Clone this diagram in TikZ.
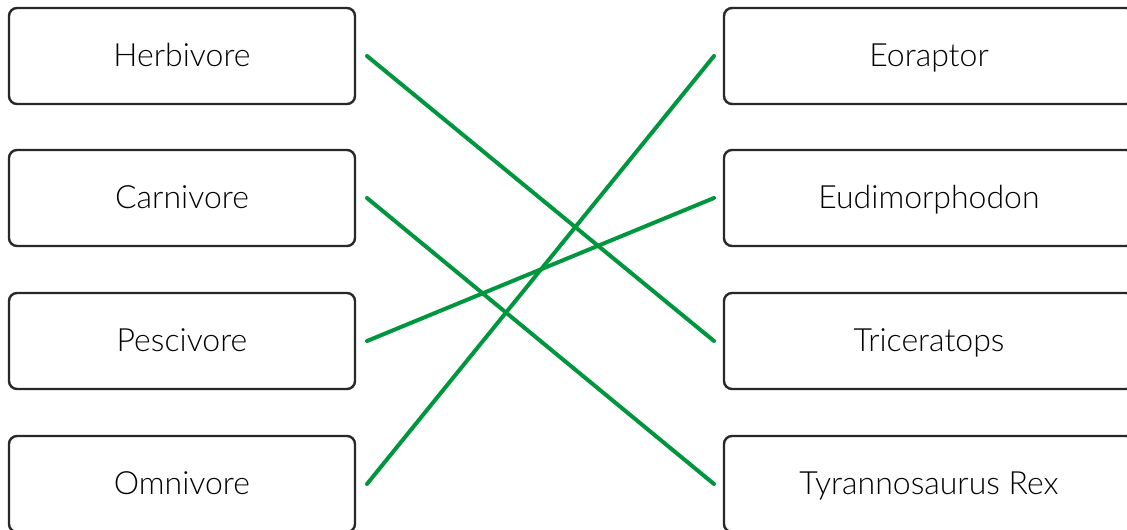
\documentclass[tikz,border=0pt]{standalone}
\usepackage{fontspec}
\setmainfont{Lato}[UprightFont=* Light]
\usetikzlibrary{positioning}
\definecolor{matchgreen}{RGB}{0,150,62}
\definecolor{boxgray}{RGB}{40,40,40}
\tikzset{
  sortbox/.style={draw=boxgray, line width=2.4pt, rounded corners=8pt,
    minimum height=96pt, inner sep=0pt, outer ysep=0pt,
    text height=26pt, text depth=6pt,
    font=\fontsize{32}{38}\selectfont},
  leftbox/.style={sortbox, minimum width=346pt, outer xsep=12pt},
  rightbox/.style={sortbox, minimum width=410pt, outer xsep=10pt},
  match/.style={matchgreen, line width=4pt, line cap=round}
}
\begin{document}
\begin{tikzpicture}[x=1pt,y=-1pt]
\useasboundingbox (0,0) rectangle (1127,530);
% the diets
\node[leftbox] (herb) at (182,56) {Herbivore};
\node[leftbox] (carn) at (182,198) {Carnivore};
\node[leftbox] (pesc) at (182,341) {Pescivore};
\node[leftbox] (omni) at (182,484) {Omnivore};
% the dinosaurs
\node[rightbox] (eora) at (929,56) {Eoraptor};
\node[rightbox] (eudi) at (929,198) {Eudimorphodon};
\node[rightbox] (tric) at (929,341) {Triceratops};
\node[rightbox] (trex) at (929,484) {Tyrannosaurus Rex};
% the answers
\draw[match] (herb.east) -- (tric.west);
\draw[match] (carn.east) -- (trex.west);
\draw[match] (pesc.east) -- (eudi.west);
\draw[match] (omni.east) -- (eora.west);
\end{tikzpicture}
\end{document}
